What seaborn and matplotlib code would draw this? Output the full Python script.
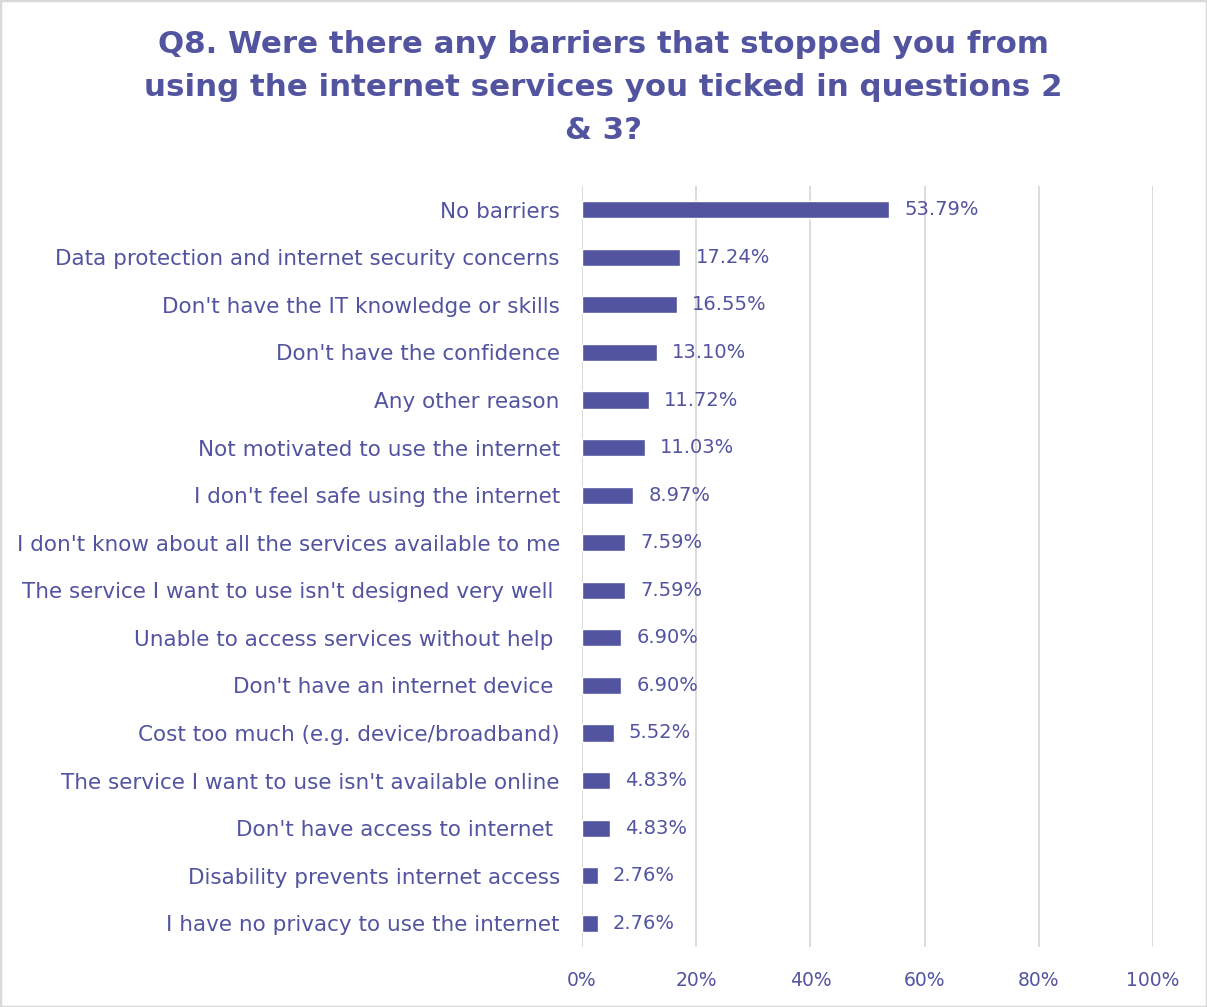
import matplotlib
matplotlib.use("Agg")
import matplotlib.pyplot as plt
import seaborn as sns
import pandas as pd
from matplotlib.patches import Rectangle

barriers = [
    "No barriers",
    "Data protection and internet security concerns",
    "Don't have the IT knowledge or skills",
    "Don't have the confidence",
    "Any other reason",
    "Not motivated to use the internet",
    "I don't feel safe using the internet",
    "I don't know about all the services available to me",
    "The service I want to use isn't designed very well ",
    "Unable to access services without help ",
    "Don't have an internet device ",
    "Cost too much (e.g. device/broadband)",
    "The service I want to use isn't available online",
    "Don't have access to internet ",
    "Disability prevents internet access",
    "I have no privacy to use the internet",
]
percentages = [53.79, 17.24, 16.55, 13.10, 11.72, 11.03, 8.97, 7.59,
               7.59, 6.90, 6.90, 5.52, 4.83, 4.83, 2.76, 2.76]
x_ticks = [0, 20, 40, 60, 80, 100]
x_tick_labels = ["0%", "20%", "40%", "60%", "80%", "100%"]

title = ("Q8. Were there any barriers that stopped you from\n"
         "using the internet services you ticked in questions 2\n& 3?")

ink = "#5254A0"
grid = "#D9D9D9"

sns.set_theme(style="white")
plt.rcParams["font.family"] = ["DejaVu Sans"]

df = pd.DataFrame({"barrier": barriers, "pct": percentages})

fig = plt.figure(figsize=(12.07, 10.07), dpi=100)
ax = fig.add_axes([582 / 1207, 1 - 947 / 1007, 571 / 1207, (947 - 186) / 1007])

sns.barplot(data=df, x="pct", y="barrier", orient="h", color=ink,
            width=0.36, saturation=1, ax=ax)

ax.set_xlim(0, 100)
ax.set_xticks(x_ticks)
ax.set_xticklabels(x_tick_labels)
ax.xaxis.grid(True, color=grid, linewidth=1.3)
ax.set_axisbelow(True)
for s in ax.spines.values():
    s.set_visible(False)
ax.set_xlabel("")
ax.set_ylabel("")
ax.tick_params(axis="y", length=0, pad=16, labelsize=15.5, labelcolor=ink)
ax.tick_params(axis="x", length=0, pad=17, labelsize=13.5, labelcolor=ink)

ax.bar_label(ax.containers[0], labels=[f"{v:.2f}%" for v in percentages],
             padding=11, fontsize=14, color=ink)

fig.text(0.5, 1 - 30 / 1007, title, ha="center", va="top", fontsize=22.2,
         fontweight="bold", color=ink, linespacing=1.6)

fig.patches.append(Rectangle((0, 0), 1, 1, transform=fig.transFigure,
                             fill=False, edgecolor=grid, linewidth=2.5))

fig.savefig("out.png", dpi=100)
